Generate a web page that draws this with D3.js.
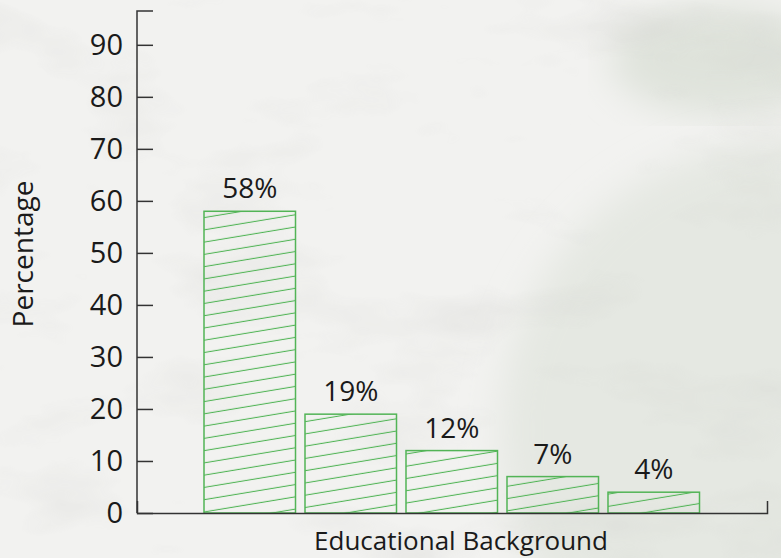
<!DOCTYPE html>
<html>
<head>
<meta charset="utf-8">
<script src="https://cdn.jsdelivr.net/npm/d3@7"></script>
<style>
  html, body { margin: 0; padding: 0; background: #efefed; }
  svg { display: block; }
</style>
</head>
<body>
<div id="chart"></div>
<script>
// data
const categories = ['A', 'B', 'C', 'D', 'E']
const values = [58, 19, 12, 7, 4]
const valueLabels = ['58%', '19%', '12%', '7%', '4%']
const yTicks = [0, 10, 20, 30, 40, 50, 60, 70, 80, 90]

const width = 781
const height = 558
const font = "'Open Sans', 'Noto Sans', sans-serif"

const svg = d3.select('#chart')
  .append('svg')
  .attr('width', width)
  .attr('height', height)

const defs = svg.append('defs')

// ? paper-ish texture for the background
const tex = defs.append('filter').attr('id', 'tex')
  .attr('x', 0).attr('y', 0).attr('width', '100%').attr('height', '100%')
tex.append('feTurbulence')
  .attr('type', 'fractalNoise')
  .attr('baseFrequency', '0.006 0.014')
  .attr('numOctaves', 4)
  .attr('seed', 7)
tex.append('feColorMatrix')
  .attr('type', 'matrix')
  .attr('values', '0 0 0 0 0.6  0 0 0 0 0.6  0 0 0 0 0.58  0 0 0 -1.3 0.62')

defs.append('filter').attr('id', 'blur')
  .append('feGaussianBlur').attr('stdDeviation', 18)

const hatch = defs.append('pattern')
  .attr('id', 'hatch')
  .attr('patternUnits', 'userSpaceOnUse')
  .attr('width', 20)
  .attr('height', 12.1)
  .attr('patternTransform', 'rotate(-9.4)')
hatch.append('line')
  .attr('x1', -1).attr('x2', 21)
  .attr('y1', 6).attr('y2', 6)
  .attr('stroke', '#52b456')
  .attr('stroke-width', 1.1)

// background
const bg = svg.append('g')
bg.append('rect').attr('width', width).attr('height', height).attr('fill', '#f2f2f0')
bg.append('ellipse')
  .attr('cx', 720).attr('cy', 60).attr('rx', 110).attr('ry', 55)
  .attr('fill', '#dfe3db').attr('filter', 'url(#blur)')
bg.append('circle')
  .attr('cx', 790).attr('cy', 430).attr('r', 290)
  .attr('fill', '#e5e8e2').attr('filter', 'url(#blur)')
bg.append('rect').attr('width', width).attr('height', height)
  .attr('filter', 'url(#tex)').attr('opacity', 0.5)

const margin = { left: 137, top: 11, right: 767, bottom: 513 }

const x = d3.scaleBand()
  .domain(categories)
  .range([204, 699.5])
  .paddingInner(0.094)
  .paddingOuter(0)

const y = d3.scaleLinear()
  .domain([0, 96.5])
  .range([margin.bottom, margin.top])

// bars
svg.append('g')
  .selectAll('rect')
  .data(values)
  .join('rect')
  .attr('x', (d, i) => x(categories[i]))
  .attr('y', (d) => y(d))
  .attr('width', x.bandwidth())
  .attr('height', (d) => y(0) - y(d))
  .attr('fill', 'url(#hatch)')
  .attr('stroke', '#52b456')
  .attr('stroke-width', 1.5)

// value labels
svg.append('g')
  .selectAll('text')
  .data(values)
  .join('text')
  .attr('x', (d, i) => x(categories[i]) + x.bandwidth() / 2)
  .attr('y', (d) => y(d) - 13)
  .attr('text-anchor', 'middle')
  .attr('font-family', font)
  .attr('font-size', 28)
  .attr('fill', '#1a1a1a')
  .text((d, i) => valueLabels[i])

// y axis
const yAxis = svg.append('g')
  .attr('transform', `translate(${margin.left},0)`)
  .call(d3.axisLeft(y).tickValues(yTicks).tickSize(-16).tickPadding(14))
yAxis.selectAll('path, line').attr('stroke', '#333').attr('stroke-width', 1.5)
yAxis.selectAll('text')
  .attr('font-family', font)
  .attr('font-size', 29)
  .attr('fill', '#1a1a1a')
yAxis.select('.domain').attr('d', `M-16,${margin.top}H0V${margin.bottom}`).attr('transform', 'scale(-1,1)')

// x axis
const xAxis = svg.append('g')
  .attr('transform', `translate(0,${margin.bottom})`)
  .call(d3.axisBottom(d3.scaleLinear().range([margin.left, margin.right])).tickValues([]).tickSizeOuter(-12))
xAxis.selectAll('path').attr('stroke', '#333').attr('stroke-width', 1.5)

// axis titles
svg.append('text')
  .attr('x', 461)
  .attr('y', 550)
  .attr('text-anchor', 'middle')
  .attr('font-family', font)
  .attr('font-size', 26)
  .attr('fill', '#1a1a1a')
  .text('Educational Background')

svg.append('text')
  .attr('transform', 'translate(33,254) rotate(-90)')
  .attr('text-anchor', 'middle')
  .attr('font-family', font)
  .attr('font-size', 28)
  .attr('fill', '#1a1a1a')
  .text('Percentage')
</script>
</body>
</html>
